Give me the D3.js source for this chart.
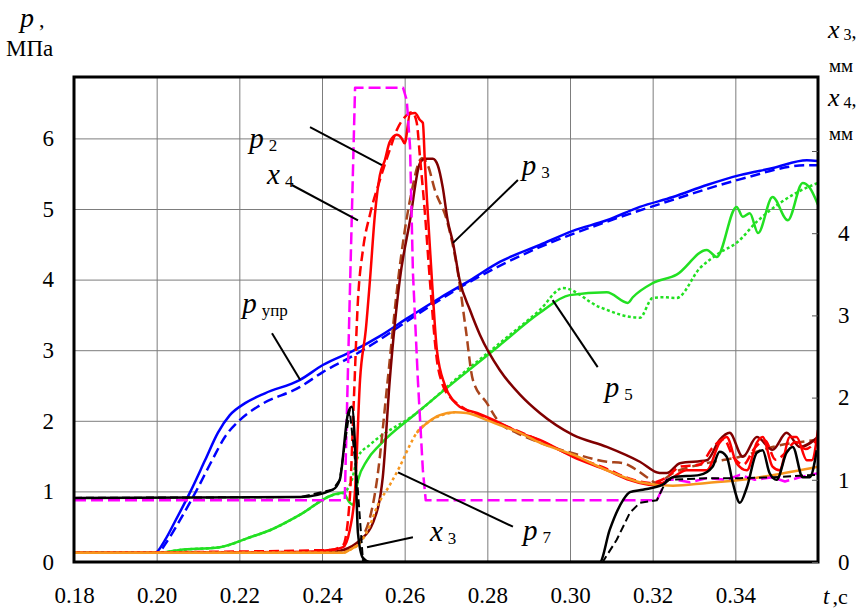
<!DOCTYPE html>
<html><head><meta charset="utf-8">
<script src="https://cdn.jsdelivr.net/npm/d3@7"></script>
<style>
body{margin:0;background:#fff}
svg{display:block}
text{font-family:"Liberation Serif","Times New Roman","DejaVu Serif",serif;fill:#000}
</style>
</head><body>
<svg id="c" width="863" height="610"></svg>
<script>
// ---------- tick labels ----------
const xTicks = [0.18,0.20,0.22,0.24,0.26,0.28,0.30,0.32,0.34];
const pTicks = [0,1,2,3,4,5,6];
const mmTicks = [0,1,2,3,4,5];
const mmLabels = ["0","1","2","3","4",""];

// ---------- series: [t (s), value] ----------
// p_upr (MPa) solid and dashed
const puprSolid = [[0.18,0.13],[0.1996,0.13],[0.202,0.31],[0.2044,0.57],[0.2081,0.99],[0.2117,1.44],[0.2148,1.83],[0.2177,2.08],[0.2214,2.25],[0.2262,2.39],[0.2347,2.58],[0.2402,2.79],[0.2475,2.99],[0.254,3.2],[0.2603,3.44],[0.2685,3.74],[0.2758,3.99],[0.283,4.25],[0.2927,4.49],[0.3007,4.69],[0.3089,4.84],[0.3169,5.03],[0.3249,5.17],[0.3331,5.34],[0.3411,5.48],[0.3491,5.58],[0.3573,5.69],[0.36,5.68]];
const puprDashed = [[0.18,0.13],[0.2001,0.13],[0.2027,0.31],[0.2056,0.59],[0.2097,1.02],[0.2134,1.44],[0.2165,1.77],[0.2201,2.01],[0.225,2.22],[0.2347,2.48],[0.2402,2.69],[0.2475,2.92],[0.254,3.15],[0.2603,3.4],[0.2758,3.97],[0.2927,4.46],[0.3089,4.82],[0.3249,5.13],[0.3411,5.42],[0.3573,5.62],[0.36,5.62]];
// p5 (MPa)
const p5Solid = [[0.18,0.13],[0.2001,0.13],[0.2056,0.17],[0.2153,0.21],[0.2226,0.35],[0.2274,0.45],[0.2347,0.67],[0.2426,0.95],[0.2451,0.98],[0.2467,0.84],[0.2475,0.81],[0.2487,1.16],[0.2509,1.44],[0.254,1.66],[0.2629,2.11],[0.2726,2.58],[0.283,3.07],[0.2927,3.53],[0.2999,3.78],[0.3089,3.82],[0.314,3.67],[0.3152,3.75],[0.32,3.95],[0.3258,4.07],[0.3331,4.42],[0.3355,4.32],[0.3403,5.03],[0.3418,4.89],[0.3435,4.94],[0.3455,4.66],[0.349,5.17],[0.3527,4.84],[0.3563,5.37],[0.358,5.3],[0.36,5.06]];
const p5Dotted = [[0.18,0.13],[0.2001,0.13],[0.2056,0.17],[0.2153,0.21],[0.2226,0.35],[0.2274,0.45],[0.2347,0.67],[0.2426,0.95],[0.2451,0.98],[0.2472,1.16],[0.2487,1.49],[0.2516,1.66],[0.2629,2.11],[0.2726,2.6],[0.283,3.1],[0.2927,3.57],[0.2983,3.88],[0.3072,3.61],[0.3169,3.46],[0.32,3.74],[0.3224,3.75],[0.3258,3.74],[0.3314,4.16],[0.3362,4.38],[0.3403,4.52],[0.3452,4.82],[0.3507,5.08],[0.3548,5.23],[0.36,5.37]];
// p2 (MPa)
const p2Solid = [[0.18,0.13],[0.2347,0.14],[0.242,0.17],[0.2451,0.21],[0.2467,0.45],[0.248,1.02],[0.2492,2.58],[0.2506,3.29],[0.2516,3.99],[0.2528,4.92],[0.254,5.48],[0.2552,5.69],[0.2564,5.95],[0.2581,6.05],[0.2593,6.0],[0.26,5.93],[0.2613,6.35],[0.2625,6.36],[0.2637,6.26],[0.2644,6.22],[0.2649,5.65],[0.2654,5.13],[0.2666,3.99],[0.2678,3.0],[0.2697,2.51],[0.2717,2.29],[0.2733,2.2],[0.2775,2.11],[0.283,1.97],[0.2879,1.83],[0.2927,1.73],[0.3007,1.49],[0.3089,1.3],[0.3145,1.16],[0.32,1.09],[0.3224,1.12],[0.3249,1.2],[0.3282,1.3],[0.3331,1.3],[0.3362,1.69],[0.3379,1.77],[0.3403,1.4],[0.3428,1.3],[0.3452,1.69],[0.3466,1.77],[0.349,1.35],[0.3507,1.3],[0.3532,1.77],[0.3548,1.77],[0.3573,1.44],[0.3585,1.44],[0.36,1.87]];
const p2Dashed = [[0.18,0.13],[0.242,0.17],[0.2451,0.24],[0.2467,0.88],[0.2477,2.29],[0.2487,3.71],[0.2499,4.42],[0.2516,4.92],[0.254,5.41],[0.2564,5.84],[0.2581,6.12],[0.26,6.3],[0.2618,6.37],[0.2629,6.23],[0.2637,5.74],[0.2649,4.94],[0.2661,3.99],[0.2678,2.86],[0.2692,2.51],[0.2709,2.34],[0.2733,2.22],[0.2775,2.08],[0.283,1.96],[0.2927,1.72],[0.3007,1.5],[0.3089,1.32],[0.3145,1.18],[0.3193,1.12],[0.3234,1.2],[0.3266,1.35],[0.3314,1.38],[0.3345,1.62],[0.3372,1.74],[0.3394,1.5],[0.342,1.38],[0.3445,1.6],[0.3472,1.72],[0.3497,1.45],[0.3522,1.55],[0.3545,1.7],[0.357,1.6],[0.36,1.75]];
// p3 (MPa)
const p3Solid = [[0.18,0.13],[0.242,0.14],[0.2451,0.17],[0.2492,0.31],[0.2523,0.55],[0.2547,1.2],[0.2564,2.58],[0.2588,3.99],[0.2613,4.84],[0.2637,5.65],[0.2649,5.71],[0.2668,5.71],[0.268,5.62],[0.2692,5.31],[0.2704,4.84],[0.2717,4.52],[0.2733,3.99],[0.2758,3.57],[0.2782,3.22],[0.283,2.72],[0.2879,2.37],[0.2927,2.11],[0.3007,1.8],[0.3089,1.63],[0.3169,1.42],[0.3217,1.26],[0.3234,1.26],[0.3266,1.4],[0.3331,1.44],[0.3362,1.73],[0.3386,1.83],[0.3418,1.49],[0.3452,1.77],[0.349,1.59],[0.3524,1.83],[0.3556,1.63],[0.36,1.77]];
const p3Dashed = [[0.18,0.13],[0.2443,0.14],[0.2492,0.31],[0.2533,1.16],[0.2559,2.58],[0.2584,3.99],[0.2613,5.13],[0.2642,5.72],[0.2656,5.62],[0.2673,5.27],[0.2702,4.84],[0.2729,4.09],[0.2748,3.29],[0.2765,2.58],[0.2799,2.25],[0.283,1.97],[0.2871,1.83],[0.2927,1.69],[0.3007,1.54],[0.3089,1.42],[0.3128,1.4],[0.3162,1.3],[0.3186,1.2],[0.321,1.12],[0.3249,1.26],[0.3331,1.4],[0.3411,1.49],[0.349,1.63],[0.36,1.73]];
// p7 (MPa)
const p7Solid = [[0.18,0.13],[0.2451,0.13],[0.2467,0.17],[0.2487,0.24],[0.249,null],[0.2629,1.83],[0.2654,1.97],[0.2685,2.08],[0.2721,2.12],[0.275,2.11],[0.2799,2.01],[0.283,1.94],[0.2879,1.83],[0.2927,1.69],[0.3007,1.52],[0.3089,1.3],[0.3169,1.13],[0.3249,1.08],[0.3331,1.12],[0.3411,1.16],[0.349,1.23],[0.36,1.35]];
const p7Dotted = [[0.18,0.13],[0.2451,0.13],[0.2467,0.17],[0.2492,0.27],[0.2516,0.52],[0.2533,0.78],[0.2564,1.09],[0.2588,1.35],[0.2613,1.66],[0.2629,1.83],[0.2654,1.97],[0.2685,2.07],[0.2721,2.12]];
// x4 (mm)
const x4Dashed = [[0.18,0.75],[0.2455,0.75],[0.2467,3.19],[0.248,5.77],[0.2596,5.77],[0.2605,5.62],[0.2613,5.05],[0.262,3.52],[0.2632,2.21],[0.2644,1.12],[0.2651,0.75],[0.321,0.75],[0.3222,0.88],[0.3234,1.0],[0.3258,1.0],[0.329,0.97],[0.3331,1.02],[0.3379,1.0],[0.3411,1.06],[0.3447,1.0],[0.349,1.03],[0.352,0.98],[0.3556,1.03],[0.36,1.08]];
// x3 (mm)
const x3Solid = [[0.18,0.78],[0.2347,0.79],[0.2426,0.88],[0.2443,1.0],[0.2463,1.81],[0.2472,1.89],[0.248,1.4],[0.2487,0.35],[0.2499,0.05],[0.2516,0.0],[0.3072,0.0],[0.3096,0.39],[0.3128,0.75],[0.3145,0.85],[0.3176,0.88],[0.3224,0.94],[0.3249,1.03],[0.3314,1.06],[0.3345,1.16],[0.3362,1.34],[0.3379,1.28],[0.3394,0.96],[0.3411,0.72],[0.3428,0.91],[0.3452,1.33],[0.3466,1.36],[0.3483,1.08],[0.35,1.0],[0.3524,1.33],[0.3539,1.4],[0.3563,1.03],[0.358,1.03],[0.3597,1.36]];
const x3Dashed = [[0.18,0.78],[0.2347,0.79],[0.2426,0.88],[0.2443,1.0],[0.2467,1.85],[0.2485,1.0],[0.2499,0.02],[0.2516,0],[0.3079,0],[0.3113,0.27],[0.3145,0.6],[0.3169,0.72],[0.321,0.75],[0.3234,1.0],[0.3331,1.02],[0.3411,1.02],[0.349,1.03],[0.3556,1.05],[0.36,1.06]];

// ---------- annotations: text anchor [t,p], leader from [t,p] to [t,p] ----------
const annNames = [["p","2"],["x","4"],["p","3"],["p","упр"],["p","5"],["x","3"],["p","7"]];
const annText  = [[0.2224,5.86],[0.2267,5.36],[0.2883,5.48],[0.2207,3.53],[0.3084,2.34],[0.2661,0.30],[0.2886,0.31]];
const annFrom  = [[0.2371,6.16],[0.2327,5.34],[0.2874,5.41],[0.2279,3.24],[0.2958,3.71],[0.262,0.35],[0.2862,0.50]];
const annTo    = [[0.2545,5.62],[0.2487,4.84],[0.2717,4.52],[0.2347,2.58],[0.3067,2.76],[0.2509,0.21],[0.2584,1.27]];

// ---------- drawing ----------
const FONT = "'Liberation Serif','Times New Roman','DejaVu Serif',serif";
const svg = d3.select("#c");
const L = 74, R = 818, T = 77, B = 562;
const x = d3.scaleLinear().domain([0.18,0.36]).range([L,R]);
const yP = d3.scaleLinear().domain([0,6]).range([B,138.4]);
const yM = d3.scaleLinear().domain([0,5]).range([B,151]);

svg.append("defs").append("clipPath").attr("id","clip")
  .append("rect").attr("x",L).attr("y",T).attr("width",R-L).attr("height",B-T);

// grid
svg.append("g").attr("transform",`translate(0,${B})`)
  .call(d3.axisBottom(x).tickValues(xTicks.slice(1)).tickSize(-(B-T)).tickFormat(""))
  .call(g=>g.select(".domain").remove())
  .call(g=>g.selectAll("line").attr("stroke","#7d7d7d").attr("stroke-width",1));
svg.append("g").attr("transform",`translate(${L},0)`)
  .call(d3.axisLeft(yP).tickValues(pTicks.slice(1)).tickSize(-(R-L)).tickFormat(""))
  .call(g=>g.select(".domain").remove())
  .call(g=>g.selectAll("line").attr("stroke","#7d7d7d").attr("stroke-width",1));

const series = [
  {d:puprDashed, y:yP, c:"#0000ff", w:2.5, dash:"10,5"},
  {d:puprSolid,  y:yP, c:"#0000ff", w:2.5},
  {d:p5Dotted,   y:yP, c:"#22e022", w:2.5, dash:"3,2.5"},
  {d:p5Solid,    y:yP, c:"#22e022", w:2.5},
  {d:p3Dashed,   y:yP, c:"#a8441c", w:2.5, dash:"10,5"},
  {d:p3Solid,    y:yP, c:"#800000", w:2.5},
  {d:p2Dashed,   y:yP, c:"#ff0000", w:2.5, dash:"10,5"},
  {d:p2Solid,    y:yP, c:"#ff0000", w:2.5},
  {d:p7Dotted,   y:yP, c:"#f7961e", w:2.5, dash:"3,3"},
  {d:p7Solid,    y:yP, c:"#f7961e", w:2.5},
  {d:x4Dashed,   y:yM, c:"#ff00ff", w:2.5, dash:"12,5", lin:true},
  {d:x3Dashed,   y:yM, c:"#000000", w:2, dash:"8,4", lin:true},
  {d:x3Solid,    y:yM, c:"#000000", w:2.5},
];
const gl = svg.append("g").attr("clip-path","url(#clip)");
series.forEach(s=>{
  const line = d3.line().defined(d=>d[1]!=null)
    .x(d=>x(d[0])).y(d=>s.y(d[1]))
    .curve(s.lin ? d3.curveLinear : d3.curveMonotoneX);
  gl.append("path").datum(s.d).attr("d",line)
    .attr("fill","none").attr("stroke",s.c).attr("stroke-width",s.w)
    .attr("stroke-linejoin","round")
    .attr("stroke-dasharray",s.dash||null);
});

// frame
svg.append("rect").attr("x",L).attr("y",T).attr("width",R-L).attr("height",B-T)
  .attr("fill","none").attr("stroke","#000").attr("stroke-width",3);

// axes labels
const styleText = g=>g.attr("font-family",FONT).selectAll("text").attr("font-family",FONT).attr("font-size",23).attr("fill","#000");
svg.append("g").attr("transform",`translate(0,${B})`)
  .call(d3.axisBottom(x).tickValues(xTicks).tickSize(0).tickPadding(25).tickFormat(d3.format(".2f")))
  .call(g=>g.select(".domain").remove()).call(styleText);
svg.append("g").attr("transform",`translate(${L},0)`)
  .call(d3.axisLeft(yP).tickValues(pTicks).tickSize(0).tickPadding(20).tickFormat(d3.format("d")))
  .call(g=>g.select(".domain").remove()).call(styleText);
svg.append("g").attr("transform",`translate(${R},0)`)
  .call(d3.axisRight(yM).tickValues(mmTicks).tickSize(-6).tickPadding(20).tickFormat((d,i)=>mmLabels[i]))
  .call(g=>g.select(".domain").remove()).call(styleText)
  .call(g=>g.selectAll("line").attr("stroke","#555").attr("stroke-width",1));

// axis titles
function title(xp, yp, parts){
  const t = svg.append("text").attr("x",xp).attr("y",yp).attr("font-family",FONT);
  parts.forEach(p=>{
    t.append("tspan").text(p.s).attr("font-size",p.f).attr("font-style",p.i?"italic":"normal")
     .attr("dx",p.dx||0).attr("dy",p.dy||0);
  });
}
title(20,27,[{s:"p",f:28,i:true},{s:",",f:22,dx:5}]);
title(6,56,[{s:"МПа",f:23}]);
title(828,38,[{s:"x",f:26,i:true},{s:"3",f:16,dx:4,dy:2},{s:",",f:20,dy:-2}]);
title(829,72,[{s:"мм",f:19}]);
title(828,106,[{s:"x",f:26,i:true},{s:"4",f:16,dx:4,dy:2},{s:",",f:20,dy:-2}]);
title(829,140,[{s:"мм",f:19}]);
title(823,604,[{s:"t",f:23,i:true},{s:",c",f:22,dx:3}]);

// annotations
annNames.forEach((n,i)=>{
  svg.append("line")
    .attr("x1",x(annFrom[i][0])).attr("y1",yP(annFrom[i][1]))
    .attr("x2",x(annTo[i][0])).attr("y2",yP(annTo[i][1]))
    .attr("stroke","#000").attr("stroke-width",2);
  const t = svg.append("text").attr("x",x(annText[i][0])).attr("y",yP(annText[i][1])).attr("font-family",FONT);
  t.append("tspan").text(n[0]).attr("font-size",29).attr("font-style","italic");
  t.append("tspan").text(n[1]).attr("font-size",17).attr("dx",5).attr("dy",3);
});
</script>
</body></html>
